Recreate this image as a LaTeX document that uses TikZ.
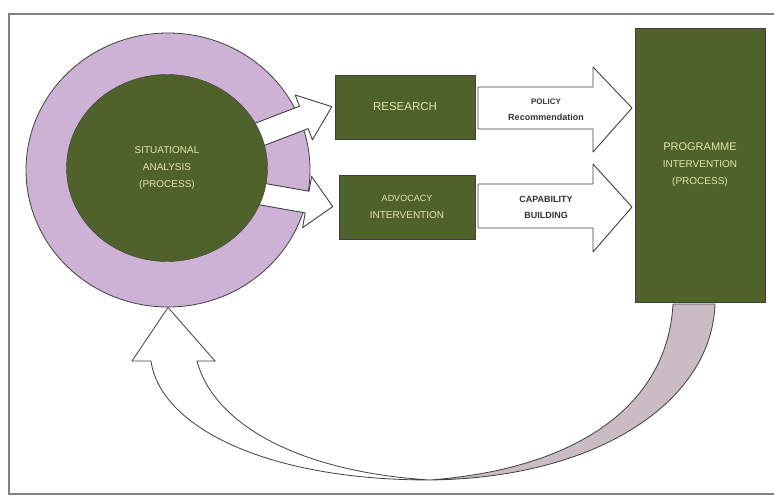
\documentclass[tikz,border=0pt]{standalone}
\usepackage{fontspec}
\setmainfont{Liberation Sans}
\usepackage{tkz-euclide}
\usetikzlibrary{shapes.geometric}
\definecolor{boxgreen}{RGB}{80,98,44}
\definecolor{ringlilac}{RGB}{206,178,214}
\definecolor{labelcream}{RGB}{226,228,172}
\definecolor{bandgrey}{RGB}{202,188,194}
\definecolor{edgegrey}{RGB}{64,64,64}

\begin{document}
\begin{tikzpicture}[x=1pt,y=-1pt,
  greenbox/.style={draw=edgegrey,fill=boxgreen,text=labelcream,align=center,
    inner sep=0pt,font=\fontsize{10}{17}\selectfont},
  blockarrow/.style={draw=edgegrey,fill=white,line width=.9pt},
  arrowtext/.style={align=center,text=black!80,font=\bfseries\fontsize{9}{16}\selectfont}]
  \useasboundingbox (0,0) rectangle (774,497);
  \draw[gray,line width=1.5pt] (774,14) -- (9,14) -- (9,494) -- (774,494);
  % situational analysis
  \node[draw=edgegrey,fill=ringlilac,ellipse,line width=.8pt,
        minimum width=284pt,minimum height=274pt] (ring) at (168,170) {};
  \begin{scope}[shift={(245,140)},rotate=21]
    \tkzDefPoints{0/-12/a,63/-12/b,63/-24/c,93/0/d,63/24/e,63/12/f,0/12/g}
    \tkzDrawPolygon[blockarrow](a,b,c,d,e,f,g)
  \end{scope}
  \begin{scope}[shift={(250,192)},rotate=-10]
    \tkzDefPoints{0/-11/a,58/-11/b,58/-26/c,84/0/d,58/26/e,58/11/f,0/11/g}
    \tkzDrawPolygon[blockarrow](a,b,c,d,e,f,g)
  \end{scope}
  \node[greenbox,ellipse,minimum width=201pt,minimum height=187pt]
    (situation) at (167,168) {SITUATIONAL\\ANALYSIS\\(PROCESS)};
  % middle boxes
  \node[greenbox,minimum width=140pt,minimum height=64pt] (research) at (405,107)
    {\fontsize{11.5}{16}\selectfont RESEARCH};
  \node[greenbox,minimum width=136pt,minimum height=64pt] (advocacy) at (407,207)
    {\fontsize{9}{16}\selectfont ADVOCACY\\INTERVENTION};
  \node[greenbox,minimum width=130pt,minimum height=274pt] (programme) at (700,165)
    {\fontsize{11}{19}\selectfont PROGRAMME\\INTERVENTION\\(PROCESS)};
  % big arrows
  \tkzDefPoints{478/87/P1,593/87/P2,593/67/P3,632/108/P4,593/152/P5,593/129/P6,478/129/P7}
  \tkzDrawPolygon[blockarrow](P1,P2,P3,P4,P5,P6,P7)
  \tkzDefPoints{478/184/C1,593/184/C2,593/164/C3,632/207/C4,593/252/C5,593/228/C6,478/228/C7}
  \tkzDrawPolygon[blockarrow](C1,C2,C3,C4,C5,C6,C7)
  \node[arrowtext] (policy) at (546,110) {{\fontsize{8}{16}\selectfont POLICY}\\Recommendation};
  \node[arrowtext] (capability) at (546,207) {CAPABILITY\\BUILDING};
  % feedback arrow
  \tkzDefPoints{715/304/R1,673/304/R2,430/480/B,151/361/L1,197/361/L2,132/361/H1,215/361/H2}
  \draw[draw=edgegrey,fill=bandgrey,line width=.8pt]
    (R1) .. controls (712,400) and (600,478) .. (B)
         .. controls (585,468) and (668,400) .. (R2) -- cycle;
  \draw[draw=edgegrey,fill=white,line width=.8pt]
    (B) .. controls (262,480) and (160,425) .. (L1) -- (H1) -- (ring.south)
        -- (H2) -- (L2) .. controls (214,425) and (300,472) .. (B) -- cycle;
\end{tikzpicture}
\end{document}
